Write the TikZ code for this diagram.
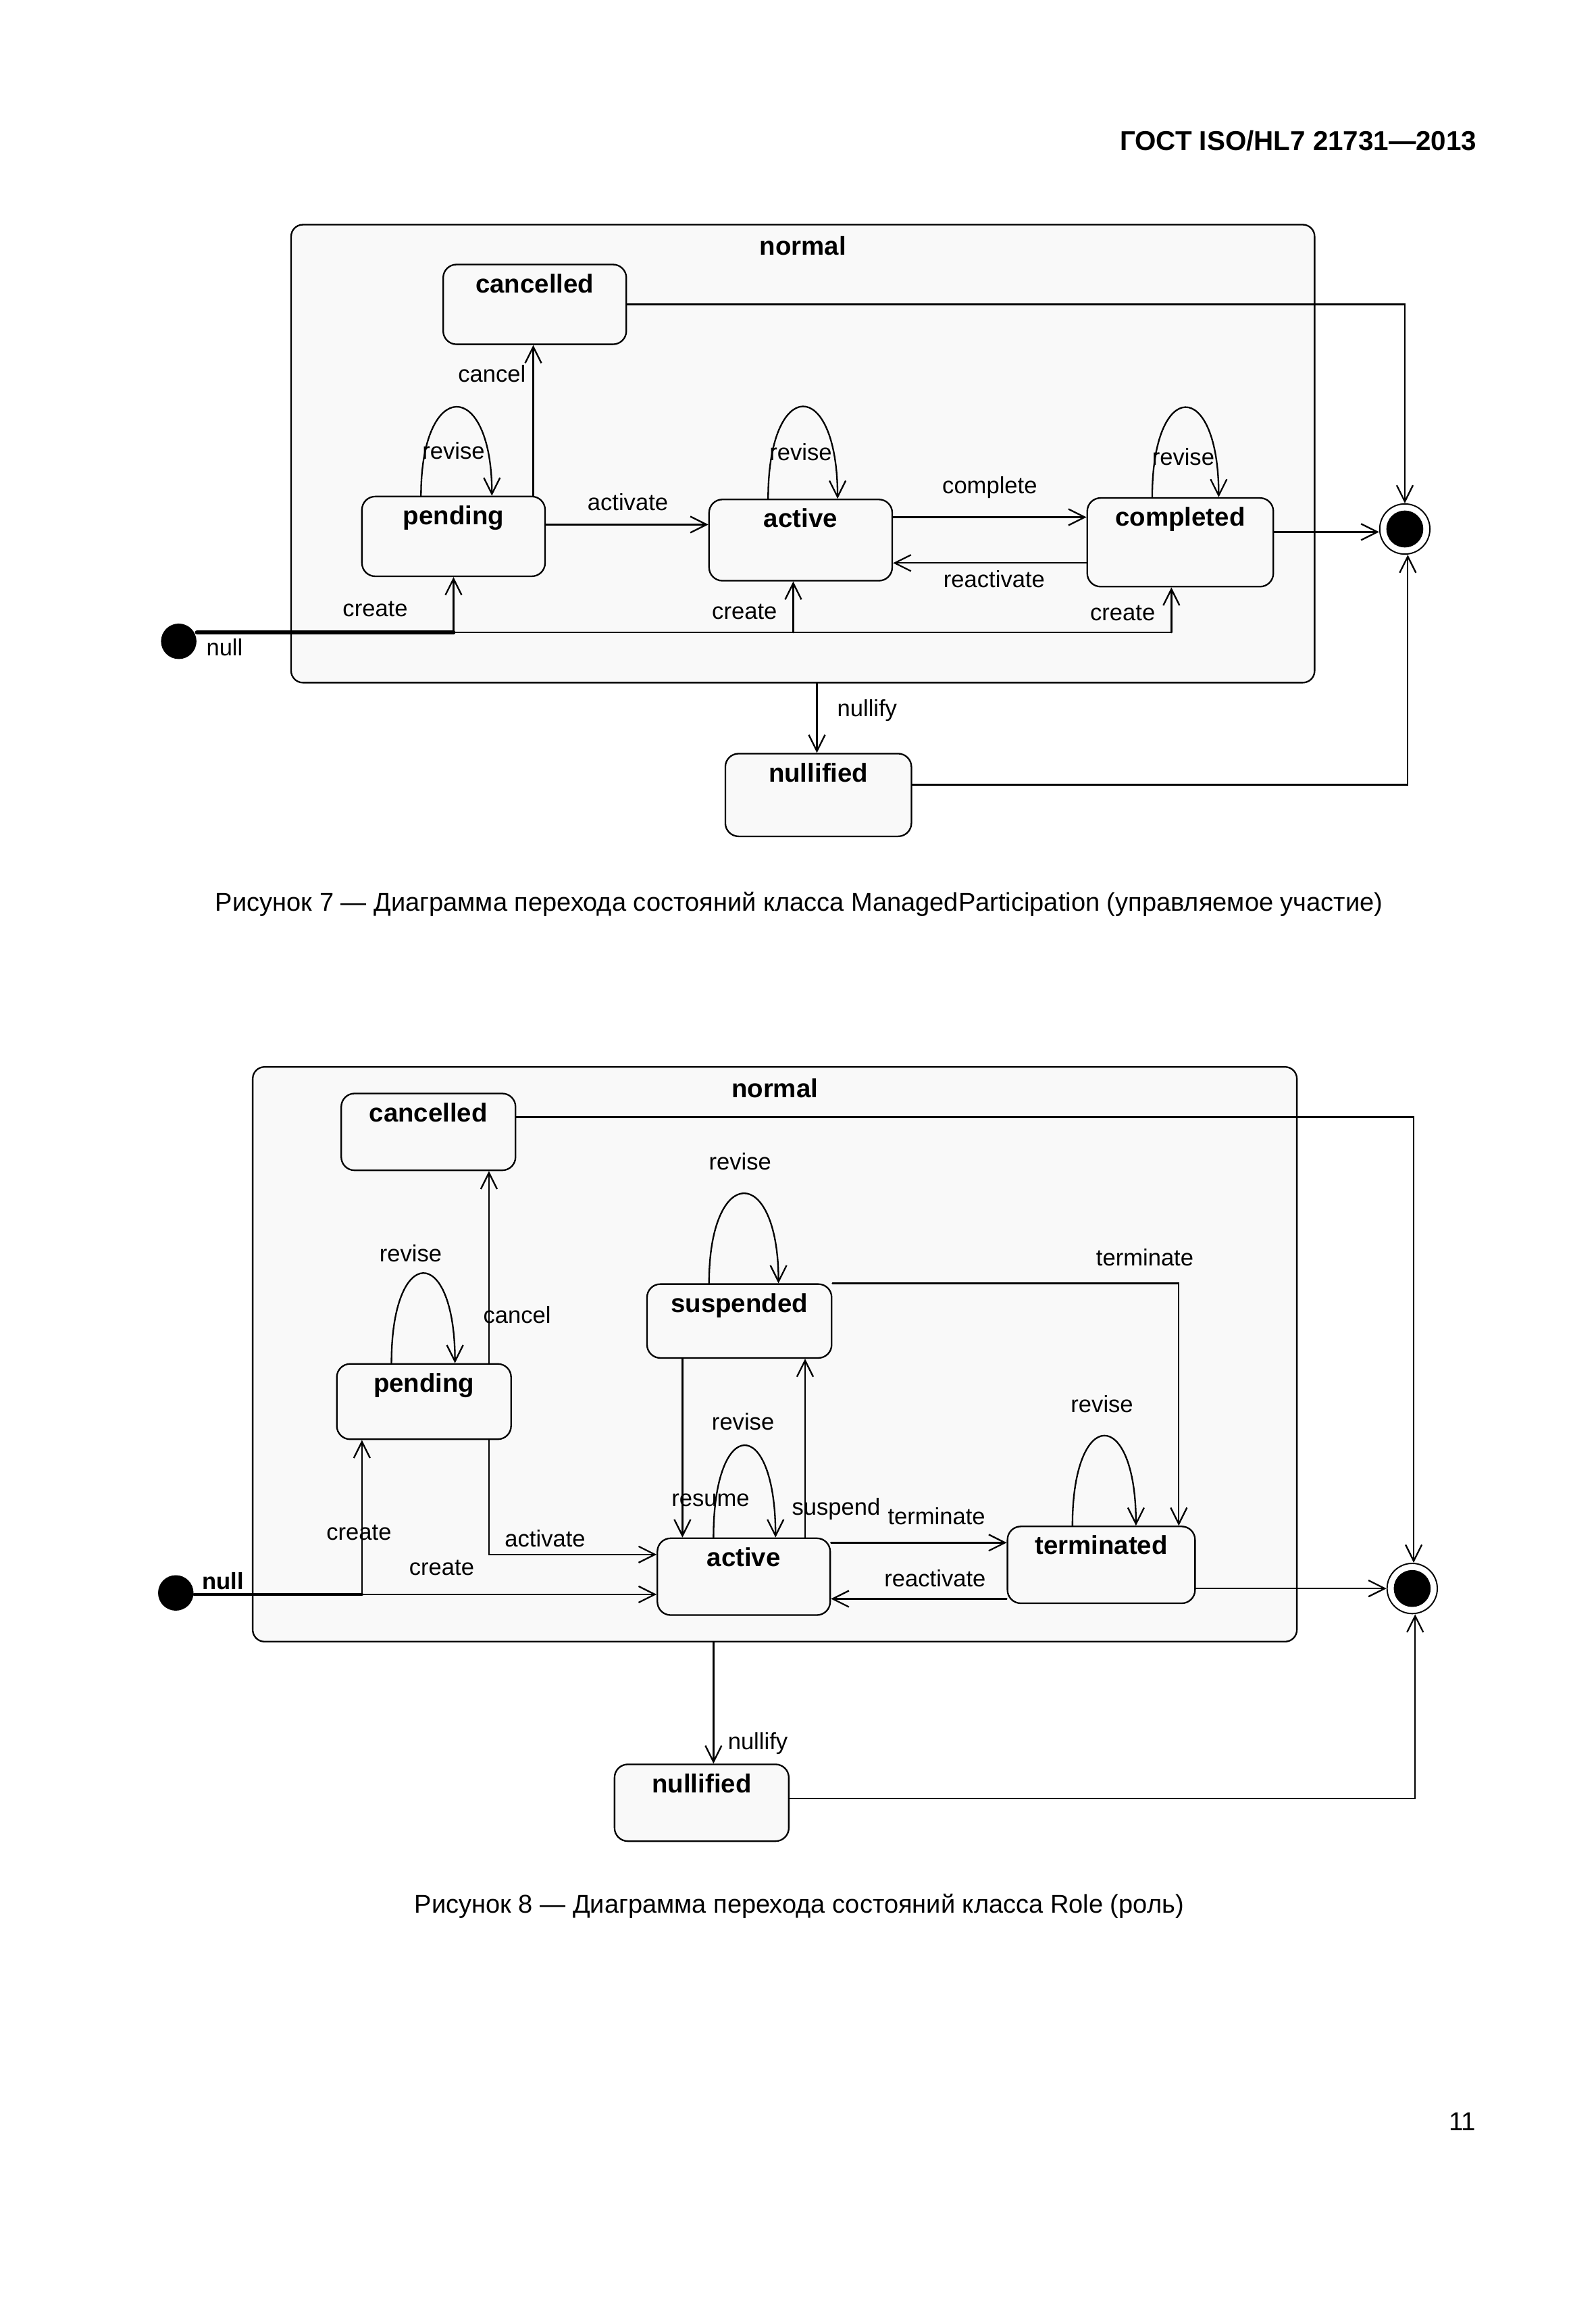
\documentclass[tikz,border=0pt]{standalone}
\usepackage{fontspec}
\setmainfont{Liberation Sans}
\usetikzlibrary{arrows.meta, positioning, calc}
\definecolor{boxfill}{RGB}{249,249,249}

\begin{document}
\begin{tikzpicture}[x=0.02cm, y=-0.02cm, line cap=round,
    trans/.style={draw, line width=0.6pt, -{Straight Barb[length=2.2mm, width=2.2mm, line width=0.6pt]}},
    statename/.style={font=\fontsize{10}{12}\selectfont\bfseries, anchor=north, inner sep=0pt, yshift=-1.3mm},
    state/.style={draw, line width=0.6pt, rounded corners=1.8mm, fill=boxfill, minimum width=2.48cm, minimum height=1.08cm, inner sep=0pt, label={[statename]north:#1}},
    composite/.style={draw, line width=0.6pt, rounded corners=1.6mm, fill=boxfill, inner sep=0pt, label={[statename, yshift=-0.3mm]north:#1}},
    lbl/.style={font=\fontsize{9}{10}\selectfont, inner sep=0pt},
    initial/.style={circle, fill=black, minimum size=0.48cm, inner sep=0pt},
    final/.style={circle, draw, line width=0.5pt, minimum size=0.68cm, inner sep=0pt, path picture={\fill (path picture bounding box.center) circle (0.25cm);}}]
\useasboundingbox (0,0) rectangle (1080,1566);

% header
\node[font=\fontsize{10.5}{12}\selectfont\bfseries, anchor=east, inner sep=0pt] (header) at (1000,95) {ГОСТ ISO/HL7 21731—2013};

%%% figure 7
\node[composite=normal, minimum width=13.86cm, minimum height=6.2cm] (normal1) at (543.5,307) {};
\node[state=cancelled] (cancelled1) at (362,206) {};
\node[state=pending] (pending1) at (307,363) {};
\node[state=active, minimum height=1.1cm] (active1) at (542,365.5) {};
\node[state=completed, minimum width=2.52cm, minimum height=1.2cm] (completed1) at (799,367) {};
\node[state=nullified, minimum width=2.52cm, minimum height=1.12cm] (nullified1) at (554,538) {};
\node[initial] (init1) at (121,434) {};
\node[final] (final1) at (951,358) {};

\coordinate (fork1a) at (307,428);
\coordinate (fork1b) at (537,428);
\coordinate (fork1c) at (793,428);

\draw[trans] (cancelled1.east) -| (final1.north);
\draw[trans] (361,0 |- pending1.north) -- (361,0 |- cancelled1.south);
\draw[trans] (285,0 |- pending1.north) .. controls +(0,-80) and +(0,-80) .. (333,0 |- pending1.north);
\draw[trans] (pending1.east |- 0,355) -- (active1.west |- 0,355);
\draw[trans] (520,0 |- active1.north) .. controls +(0,-83) and +(0,-83) .. (567,0 |- active1.north);
\draw[trans] (active1.east |- 0,350) -- (completed1.west |- 0,350);
\draw[trans] (completed1.west |- 0,381) -- (active1.east |- 0,381);
\draw[trans] (780,0 |- completed1.north) .. controls +(0,-81) and +(0,-81) .. (825,0 |- completed1.north);
\draw[trans] (completed1.east |- 0,360) -- (final1.west |- 0,360);
\draw[line width=1.6pt] (init1.east |- fork1a) -- (fork1a);
\draw[line width=0.6pt] (fork1a) -- (fork1c);
\draw[trans] (fork1a) -- (pending1.south -| fork1a);
\draw[trans] (fork1b) -- (active1.south -| fork1b);
\draw[trans] (fork1c) -- (completed1.south -| fork1c);
\draw[trans] (553,0 |- normal1.south) -- (553,0 |- nullified1.north);
\draw[trans] (nullified1.east |- 0,531) -| (953,0 |- final1.south);

\node[lbl] (cancel1) at (333,253) {cancel};
\node[lbl] (revise1a) at (307,305) {revise};
\node[lbl] (activate1) at (425,340) {activate};
\node[lbl] (revise1b) at (542,306) {revise};
\node[lbl] (complete1) at (670,330) {complete};
\node[lbl] (reactivate1) at (673,392) {reactivate};
\node[lbl] (revise1c) at (801,309) {revise};
\node[lbl] (create1a) at (254,412) {create};
\node[lbl] (create1b) at (504,414) {create};
\node[lbl] (create1c) at (760,415) {create};
\node[lbl] (null1) at (152,438) {null};
\node[lbl] (nullify1) at (587,481) {nullify};

\node[font=\fontsize{9.9}{12}\selectfont, inner sep=0pt] (caption1) at (541,612) {Рисунок 7 — Диаграмма перехода состояний класса ManagedParticipation (управляемое участие)};

%%% figure 8
\node[composite=normal, minimum width=14.14cm, minimum height=7.78cm] (normal2) at (524.5,916.5) {};
\node[state=cancelled, minimum width=2.36cm, minimum height=1.04cm] (cancelled2) at (290,766) {};
\node[state=pending, minimum width=2.36cm, minimum height=1.02cm] (pending2) at (287,948.5) {};
\node[state=suspended, minimum width=2.5cm, minimum height=1.0cm] (suspended2) at (500.5,894) {};
\node[state=active, minimum width=2.34cm, minimum height=1.04cm] (active2) at (503.5,1067) {};
\node[state=terminated, minimum width=2.54cm, minimum height=1.04cm] (terminated2) at (745.5,1059) {};
\node[state=nullified, minimum width=2.36cm, minimum height=1.04cm] (nullified2) at (475,1220) {};
\node[initial] (init2) at (119,1078) {};
\node[final] (final2) at (956,1075) {};

\coordinate (fork2) at (245,1079);

\draw[trans] (cancelled2.east |- 0,756) -| (957,0 |- final2.north);
\draw[trans] (331,0 |- pending2.north) -- (331,0 |- cancelled2.south);
\draw[trans] (265,0 |- pending2.north) .. controls +(0,-81) and +(0,-81) .. (308,0 |- pending2.north);
\draw[trans] (331,0 |- pending2.south) |- (active2.west |- 0,1052);
\draw[line width=1.1pt] (init2.east |- fork2) -- (fork2);
\draw[trans] (fork2) -- (active2.west |- fork2);
\draw[trans] (fork2) -- (pending2.south -| fork2);
\draw[trans] (480,0 |- suspended2.north) .. controls +(0,-81) and +(0,-81) .. (527,0 |- suspended2.north);
\draw[trans] (suspended2.north east) -| (798,0 |- terminated2.north);
\draw[trans] (462,0 |- suspended2.south) -- (462,0 |- active2.north);
\draw[trans] (545,0 |- active2.north) -- (545,0 |- suspended2.south);
\draw[trans] (483,0 |- active2.north) .. controls +(0,-83) and +(0,-83) .. (525,0 |- active2.north);
\draw[trans] (active2.east |- 0,1044) -- (terminated2.west |- 0,1044);
\draw[trans] (terminated2.west |- 0,1082) -- (active2.east |- 0,1082);
\draw[trans] (726,0 |- terminated2.north) .. controls +(0,-81) and +(0,-81) .. (769,0 |- terminated2.north);
\draw[trans] (terminated2.east |- final2) -- (final2.west);
\draw[trans] (483,0 |- normal2.south) -- (483,0 |- nullified2.north);
\draw[trans] (nullified2.east |- 0,1217) -| (958,0 |- final2.south);

\node[lbl] (revise2a) at (278,848) {revise};
\node[lbl] (cancel2) at (350,890) {cancel};
\node[lbl] (revise2b) at (501,786) {revise};
\node[lbl] (terminate2a) at (775,851) {terminate};
\node[lbl] (revise2c) at (503,962) {revise};
\node[lbl] (resume2) at (481,1015) {resume};
\node[lbl] (suspend2) at (566,1021) {suspend};
\node[lbl] (terminate2b) at (634,1026) {terminate};
\node[lbl] (revise2d) at (746,950) {revise};
\node[lbl] (create2a) at (243,1037) {create};
\node[lbl] (activate2) at (369,1041) {activate};
\node[lbl] (create2b) at (299,1061) {create};
\node[lbl] (reactivate2) at (633,1068) {reactivate};
\node[lbl, font=\fontsize{9}{10}\selectfont\bfseries] (null2) at (151,1070) {null};
\node[lbl] (nullify2) at (513,1180) {nullify};

\node[font=\fontsize{9.9}{12}\selectfont, inner sep=0pt] (caption2) at (541,1290) {Рисунок 8 — Диаграмма перехода состояний класса Role (роль)};

% page number
\node[font=\fontsize{10}{12}\selectfont, inner sep=0pt] (pagenum) at (990,1436) {11};
\end{tikzpicture}
\end{document}
